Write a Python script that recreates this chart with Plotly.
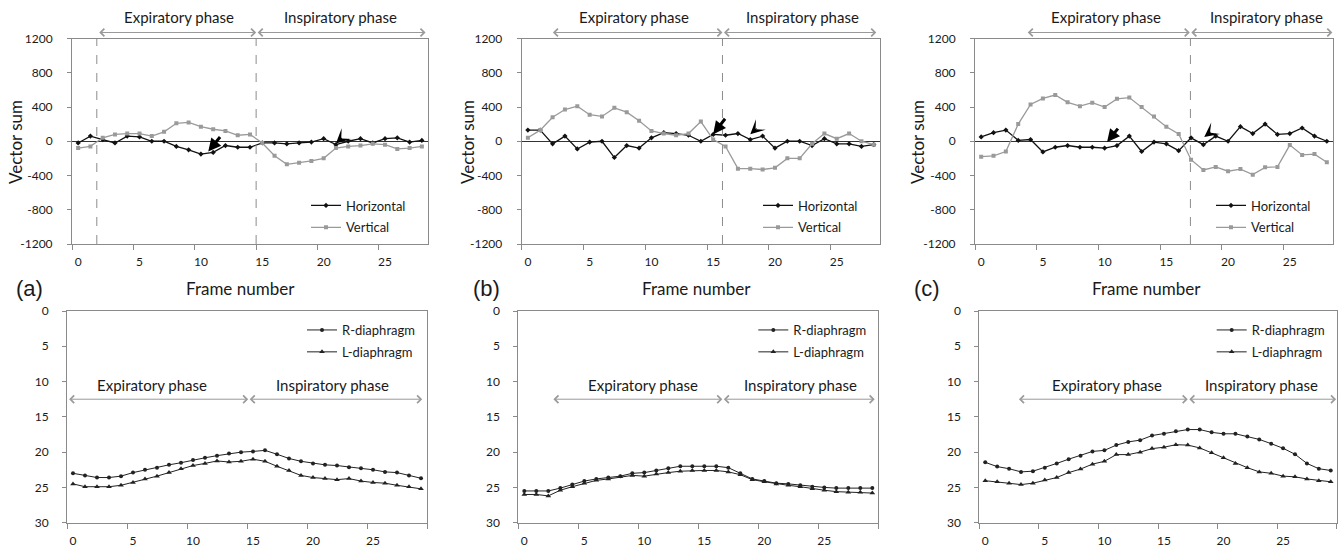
import plotly.graph_objects as go

W, H = 1342, 550

# ---------------- data ----------------
frames_top = list(range(29))
frames_bottom = list(range(30))

a_horizontal = [-20, 60, 20, -20, 60, 50, 0, 0, -60, -100, -150, -130, -50, -70, -70,
                -20, -20, -30, -20, -10, 30, -40, 0, 30, -20, 30, 40, -10, 10]
a_vertical = [-80, -60, 40, 80, 90, 90, 60, 110, 210, 220, 170, 140, 120, 70, 80,
              -20, -170, -270, -250, -230, -200, -80, -60, -50, -30, -40, -90, -80, -60]

b_horizontal = [130, 130, -30, 60, -90, -10, 0, -190, -50, -80, 40, 100, 90, 70, 0,
                80, 70, 90, 20, 60, -80, 0, 0, -50, 30, -30, -30, -60, -40]
b_vertical = [40, 130, 280, 370, 410, 310, 290, 390, 340, 240, 120, 90, 70, 90, 230,
              20, -60, -320, -320, -330, -310, -200, -200, -30, 90, 30, 90, 0, -40]

c_horizontal = [50, 100, 130, 10, 20, -125, -70, -50, -70, -70, -80, -50, 60, -120, -10,
                -30, -110, 40, -40, 60, 0, 170, 90, 200, 80, 90, 155, 60, 0]
c_vertical = [-180, -170, -120, 200, 430, 500, 540, 455, 410, 450, 400, 495, 510, 400, 290,
              170, 85, -215, -335, -300, -350, -325, -390, -305, -300, -45, -160, -150, -245]

a_R = [23.0, 23.3, 23.6, 23.6, 23.4, 22.9, 22.5, 22.2, 21.8, 21.5, 21.1, 20.8, 20.5, 20.2, 20.0,
       19.9, 19.75, 20.3, 20.9, 21.3, 21.6, 21.8, 21.9, 22.15, 22.3, 22.5, 22.8, 22.9, 23.3, 23.7]
a_L = [24.5, 24.9, 24.9, 24.9, 24.7, 24.3, 23.8, 23.4, 22.9, 22.35, 21.9, 21.6, 21.25, 21.4, 21.3,
       21.0, 21.3, 22.0, 22.6, 23.3, 23.6, 23.75, 23.9, 23.75, 24.1, 24.3, 24.4, 24.7, 24.9, 25.2]
b_R = [25.5, 25.5, 25.5, 25.1, 24.6, 24.1, 23.8, 23.6, 23.4, 23.0, 22.9, 22.6, 22.3, 22.0, 22.0,
       22.0, 22.0, 22.2, 23.0, 23.8, 24.1, 24.4, 24.5, 24.7, 24.9, 25.0, 25.1, 25.1, 25.1, 25.1]
b_L = [26.0, 26.0, 26.2, 25.4, 24.9, 24.4, 24.0, 23.8, 23.5, 23.3, 23.4, 23.1, 22.9, 22.7, 22.6,
       22.6, 22.6, 22.8, 23.2, 23.9, 24.2, 24.5, 24.7, 24.9, 25.2, 25.4, 25.6, 25.7, 25.7, 25.8]
c_R = [21.45, 22.05, 22.35, 22.8, 22.7, 22.2, 21.6, 21.0, 20.5, 19.9, 19.75, 19.0, 18.55, 18.3, 17.65,
       17.4, 17.05, 16.8, 16.8, 17.2, 17.4, 17.4, 17.8, 18.2, 18.8, 19.45, 20.3, 21.6, 22.35, 22.6]
c_L = [24.05, 24.2, 24.4, 24.6, 24.4, 23.95, 23.6, 22.9, 22.4, 21.7, 21.3, 20.35, 20.35, 20.0, 19.5,
       19.3, 18.95, 19.0, 19.4, 20.1, 20.8, 21.6, 22.2, 22.8, 23.0, 23.4, 23.5, 23.8, 24.05, 24.2]

top_ytick_vals = [-1200, -800, -400, 0, 400, 800, 1200]
top_ytick_text = ["-1200", "-800", "-400", "0", "400", "800", "1200"]
bottom_ytick_vals = [0, 5, 10, 15, 20, 25, 30]
xtick_vals = [0, 5, 10, 15, 20, 25]
panel_labels = ["(a)", "(b)", "(c)"]

# phase boundaries (frame positions): start, switch, end
top_phase = [(1.6, 14.5, 28.3), (1.9, 15.75, 28.2), (3.65, 16.9, 28.45)]
top_dashed = [[1.52, 14.5], [15.75], [16.95]]
bottom_phase = [(-0.45, 14.6, 29.1), (2.3, 16.5, 29.2), (2.7, 17.0, 29.45)]
top_text_x = [(8.25, 21.4), (8.6, 22.2), (10.1, 23.1)]
bottom_text_x = [(6.6, 21.6), (9.9, 23.05), (10.2, 23.2)]
# bold arrows (tip) and arrowheads (tip) in top panels
bold_tips = [(10.6, -120), (15.0, 82), (10.2, -10)]
bold_offsets = [(13, -16), (13, -17), (12, -15)]
head_tips = [(21.0, -25), (18.0, 82), (18.07, 50)]
head_offsets = [(12, -11), (13, -12), (13, -10)]

# ---------------- layout geometry (pixels) ----------------
top_x_px = [(72, 428), (521.7, 880), (975, 1333)]
top_y_px = (38.5, 244)
bot_x_px = [(67, 427), (518.3, 878.3), (979.3, 1336.7)]
bot_y_px = (311, 522.7)


def fx(p):
    return p / W


def fy(p):
    return 1 - p / H


def xid(n):
    return "x" if n == 1 else f"x{n}"


def yid(n):
    return "y" if n == 1 else f"y{n}"


def xkey(n):
    return "xaxis" if n == 1 else f"xaxis{n}"


def ykey(n):
    return "yaxis" if n == 1 else f"yaxis{n}"


BLACK = "#111111"
GRAY = "#9a9a9a"
AXIS = "#8a8a8a"
TEXT = "#1a1a1a"
FONT = "Lato"
CTR = dict(xanchor="center", yanchor="middle")

fig = go.Figure()

top_series = [(a_horizontal, a_vertical), (b_horizontal, b_vertical), (c_horizontal, c_vertical)]
bot_series = [(a_R, a_L), (b_R, b_L), (c_R, c_L)]

layout = dict(
    width=W, height=H, margin=dict(l=0, r=0, t=0, b=0, autoexpand=False),
    paper_bgcolor="white", plot_bgcolor="white",
    font=dict(family=FONT, color=TEXT, size=12),
    showlegend=True,
)
annotations = []
shapes = []

for i in range(3):
    nt = i + 1
    nb = i + 4
    hname = "legend" if i == 0 else f"legend{2 * i + 1}"
    bname = f"legend{2 * i + 2}"

    hz, vt = top_series[i]
    fig.add_trace(go.Scatter(
        x=frames_top, y=hz, mode="lines+markers", name="Horizontal",
        line=dict(color=BLACK, width=1.3), marker=dict(symbol="diamond", size=4, color=BLACK),
        xaxis=xid(nt), yaxis=yid(nt), legend=hname, legendgroup=f"h{i}"))
    fig.add_trace(go.Scatter(
        x=frames_top, y=vt, mode="lines+markers", name="Vertical",
        line=dict(color=GRAY, width=1.3), marker=dict(symbol="square", size=4, color=GRAY),
        xaxis=xid(nt), yaxis=yid(nt), legend=hname, legendgroup=f"v{i}"))

    r, l = bot_series[i]
    fig.add_trace(go.Scatter(
        x=frames_bottom, y=r, mode="lines+markers", name="R-diaphragm",
        line=dict(color="#222222", width=1), marker=dict(symbol="circle", size=4, color="#222222"),
        xaxis=xid(nb), yaxis=yid(nb), legend=bname, legendgroup=f"r{i}"))
    fig.add_trace(go.Scatter(
        x=frames_bottom, y=l, mode="lines+markers", name="L-diaphragm",
        line=dict(color="#222222", width=1), marker=dict(symbol="triangle-up", size=5, color="#222222"),
        xaxis=xid(nb), yaxis=yid(nb), legend=bname, legendgroup=f"l{i}"))

    common_x = dict(
        showline=True, linecolor=AXIS, linewidth=1, mirror=True, showgrid=False, zeroline=False,
        tickmode="array", tickvals=xtick_vals, ticks="", tickfont=dict(size=12, color=TEXT),
        ticklabelstandoff=7,
        minor=dict(tickmode="linear", tick0=-0.5, dtick=5, ticks="outside", ticklen=5,
                   tickcolor=AXIS, showgrid=False),
        fixedrange=True, automargin=False,
    )
    layout[xkey(nt)] = dict(common_x, domain=[fx(top_x_px[i][0]), fx(top_x_px[i][1])],
                            range=[-0.5, 28.5], anchor=yid(nt))
    layout[ykey(nt)] = dict(
        domain=[fy(top_y_px[1]), fy(top_y_px[0])], range=[-1200, 1200], anchor=xid(nt),
        showline=True, linecolor=AXIS, linewidth=1, mirror=True, showgrid=False,
        zeroline=True, zerolinecolor="#333333", zerolinewidth=1,
        tickmode="array", tickvals=top_ytick_vals, ticktext=top_ytick_text,
        ticks="outside", ticklen=4, tickcolor=AXIS, ticklabelstandoff=12,
        tickfont=dict(size=12, color=TEXT), fixedrange=True, automargin=False)
    layout[xkey(nb)] = dict(common_x, domain=[fx(bot_x_px[i][0]), fx(bot_x_px[i][1])],
                            range=[-0.5, 29.5], anchor=yid(nb))
    layout[ykey(nb)] = dict(
        domain=[fy(bot_y_px[1]), fy(bot_y_px[0])], range=[30, 0], anchor=xid(nb),
        showline=True, linecolor=AXIS, linewidth=1, mirror=True, showgrid=False, zeroline=False,
        tickmode="array", tickvals=bottom_ytick_vals,
        ticks="outside", ticklen=4, tickcolor=AXIS, ticklabelstandoff=11,
        tickfont=dict(size=12, color=TEXT), fixedrange=True, automargin=False)

    layout[hname] = dict(x=fx(top_x_px[i][1] - 122), y=fy(190.5), xanchor="left", yanchor="top",
                         bgcolor="rgba(0,0,0,0)", font=dict(size=13, color=TEXT),
                         traceorder="grouped", tracegroupgap=2, itemwidth=30)
    layout[bname] = dict(x=fx(bot_x_px[i][1] - 125), y=fy(315), xanchor="left", yanchor="top",
                         bgcolor="rgba(0,0,0,0)", font=dict(size=13, color=TEXT),
                         traceorder="grouped", tracegroupgap=2, itemwidth=30)

    for dx in top_dashed[i]:
        shapes.append(dict(type="line", xref=xid(nt), yref=f"{yid(nt)} domain",
                           x0=dx, x1=dx, y0=0, y1=1,
                           line=dict(color="#8c8c8c", width=1, dash="dash")))

    # top phase arrows & labels (above the plot area, paper y)
    s, m, e = top_phase[i]
    for (x0, x1) in [(s, m), (m, e)]:
        annotations.append(dict(
            x=x1, y=fy(32.5), ax=x0, ay=0, xref=xid(nt), yref="paper",
            axref=xid(nt), ayref="pixel", text="", showarrow=True,
            arrowside="end+start", arrowhead=4, startarrowhead=4, arrowsize=1.5,
            startarrowsize=1.5, arrowwidth=1, arrowcolor="#9a9a9a"))
    annotations.append(dict(x=top_text_x[i][0], y=fy(17), xref=xid(nt), yref="paper", **CTR,
                            text="Expiratory phase", showarrow=False, font=dict(size=15, color=TEXT)))
    annotations.append(dict(x=top_text_x[i][1], y=fy(17), xref=xid(nt), yref="paper", **CTR,
                            text="Inspiratory phase", showarrow=False, font=dict(size=15, color=TEXT)))

    s, m, e = bottom_phase[i]
    for (x0, x1) in [(s, m), (m, e)]:
        annotations.append(dict(
            x=x1, y=12.5, ax=x0, ay=12.5, xref=xid(nb), yref=yid(nb),
            axref=xid(nb), ayref=yid(nb), text="", showarrow=True,
            arrowside="end+start", arrowhead=4, startarrowhead=4, arrowsize=1.5,
            startarrowsize=1.5, arrowwidth=1, arrowcolor="#9a9a9a"))
    annotations.append(dict(x=bottom_text_x[i][0], y=10.5, xref=xid(nb), yref=yid(nb), **CTR,
                            text="Expiratory phase", showarrow=False, font=dict(size=15, color=TEXT)))
    annotations.append(dict(x=bottom_text_x[i][1], y=10.5, xref=xid(nb), yref=yid(nb), **CTR,
                            text="Inspiratory phase", showarrow=False, font=dict(size=15, color=TEXT)))

    bx, by = bold_tips[i]
    annotations.append(dict(x=bx, y=by, xref=xid(nt), yref=yid(nt),
                            ax=bold_offsets[i][0], ay=bold_offsets[i][1], text="", showarrow=True,
                            arrowhead=2, arrowsize=0.85, arrowwidth=3, arrowcolor="#000000"))
    hx, hy = head_tips[i]
    annotations.append(dict(x=hx, y=hy, xref=xid(nt), yref=yid(nt),
                            ax=head_offsets[i][0] * 0.6, ay=head_offsets[i][1] * 0.6, text="",
                            showarrow=True, arrowhead=3, arrowsize=2.4, arrowwidth=1,
                            arrowcolor="#000000"))

    fn_x = [240, 696, 1146][i]
    annotations.append(dict(x=fx(fn_x), y=fy(288), xref="paper", yref="paper", text="Frame number",
                            **CTR, showarrow=False, font=dict(size=17, color=TEXT)))
    vs_x = [15, 467, 917][i]
    annotations.append(dict(x=fx(vs_x), y=fy(142), xref="paper", yref="paper", text="Vector sum",
                            **CTR, textangle=-90, showarrow=False, font=dict(size=17, color=TEXT)))
    pl_x = [29, 486, 927][i]
    annotations.append(dict(x=fx(pl_x), y=fy(288), xref="paper", yref="paper", text=panel_labels[i],
                            **CTR, showarrow=False,
                            font=dict(size=22, color=TEXT, family="Liberation Sans")))

layout["annotations"] = annotations
layout["shapes"] = shapes
fig.update_layout(**layout)
fig.write_html("out.html", config={"displayModeBar": False},
               post_script="document.body.style.margin='0';document.body.style.overflow='hidden';")
